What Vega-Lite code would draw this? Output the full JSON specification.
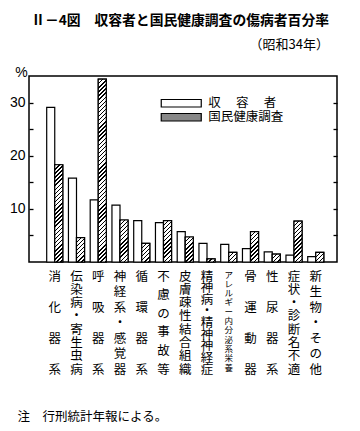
{
  "$schema": "https://vega.github.io/schema/vega-lite/v6.json",
  "autosize": {"type": "none"},
  "padding": {"left": 29, "top": 76, "right": 23, "bottom": 169},
  "width": 308,
  "height": 186,
  "params": [
    {"name": "hs", "value": [
{"offset":0,"color":"#000"},{"offset":0.007,"color":"#000"},{"offset":0.007,"color":"#fff"},{"offset":0.02,"color":"#fff"},
{"offset":0.02,"color":"#000"},{"offset":0.027,"color":"#000"},{"offset":0.027,"color":"#fff"},{"offset":0.04,"color":"#fff"},
{"offset":0.04,"color":"#000"},{"offset":0.047,"color":"#000"},{"offset":0.047,"color":"#fff"},{"offset":0.06,"color":"#fff"},
{"offset":0.06,"color":"#000"},{"offset":0.067,"color":"#000"},{"offset":0.067,"color":"#fff"},{"offset":0.08,"color":"#fff"},
{"offset":0.08,"color":"#000"},{"offset":0.087,"color":"#000"},{"offset":0.087,"color":"#fff"},{"offset":0.1,"color":"#fff"},
{"offset":0.1,"color":"#000"},{"offset":0.107,"color":"#000"},{"offset":0.107,"color":"#fff"},{"offset":0.12,"color":"#fff"},
{"offset":0.12,"color":"#000"},{"offset":0.127,"color":"#000"},{"offset":0.127,"color":"#fff"},{"offset":0.14,"color":"#fff"},
{"offset":0.14,"color":"#000"},{"offset":0.147,"color":"#000"},{"offset":0.147,"color":"#fff"},{"offset":0.16,"color":"#fff"},
{"offset":0.16,"color":"#000"},{"offset":0.167,"color":"#000"},{"offset":0.167,"color":"#fff"},{"offset":0.18,"color":"#fff"},
{"offset":0.18,"color":"#000"},{"offset":0.187,"color":"#000"},{"offset":0.187,"color":"#fff"},{"offset":0.2,"color":"#fff"},
{"offset":0.2,"color":"#000"},{"offset":0.207,"color":"#000"},{"offset":0.207,"color":"#fff"},{"offset":0.22,"color":"#fff"},
{"offset":0.22,"color":"#000"},{"offset":0.227,"color":"#000"},{"offset":0.227,"color":"#fff"},{"offset":0.24,"color":"#fff"},
{"offset":0.24,"color":"#000"},{"offset":0.247,"color":"#000"},{"offset":0.247,"color":"#fff"},{"offset":0.26,"color":"#fff"},
{"offset":0.26,"color":"#000"},{"offset":0.267,"color":"#000"},{"offset":0.267,"color":"#fff"},{"offset":0.28,"color":"#fff"},
{"offset":0.28,"color":"#000"},{"offset":0.287,"color":"#000"},{"offset":0.287,"color":"#fff"},{"offset":0.3,"color":"#fff"},
{"offset":0.3,"color":"#000"},{"offset":0.307,"color":"#000"},{"offset":0.307,"color":"#fff"},{"offset":0.32,"color":"#fff"},
{"offset":0.32,"color":"#000"},{"offset":0.327,"color":"#000"},{"offset":0.327,"color":"#fff"},{"offset":0.34,"color":"#fff"},
{"offset":0.34,"color":"#000"},{"offset":0.347,"color":"#000"},{"offset":0.347,"color":"#fff"},{"offset":0.36,"color":"#fff"},
{"offset":0.36,"color":"#000"},{"offset":0.367,"color":"#000"},{"offset":0.367,"color":"#fff"},{"offset":0.38,"color":"#fff"},
{"offset":0.38,"color":"#000"},{"offset":0.387,"color":"#000"},{"offset":0.387,"color":"#fff"},{"offset":0.4,"color":"#fff"},
{"offset":0.4,"color":"#000"},{"offset":0.407,"color":"#000"},{"offset":0.407,"color":"#fff"},{"offset":0.42,"color":"#fff"},
{"offset":0.42,"color":"#000"},{"offset":0.427,"color":"#000"},{"offset":0.427,"color":"#fff"},{"offset":0.44,"color":"#fff"},
{"offset":0.44,"color":"#000"},{"offset":0.447,"color":"#000"},{"offset":0.447,"color":"#fff"},{"offset":0.46,"color":"#fff"},
{"offset":0.46,"color":"#000"},{"offset":0.467,"color":"#000"},{"offset":0.467,"color":"#fff"},{"offset":0.48,"color":"#fff"},
{"offset":0.48,"color":"#000"},{"offset":0.487,"color":"#000"},{"offset":0.487,"color":"#fff"},{"offset":0.5,"color":"#fff"},
{"offset":0.5,"color":"#000"},{"offset":0.507,"color":"#000"},{"offset":0.507,"color":"#fff"},{"offset":0.52,"color":"#fff"},
{"offset":0.52,"color":"#000"},{"offset":0.527,"color":"#000"},{"offset":0.527,"color":"#fff"},{"offset":0.54,"color":"#fff"},
{"offset":0.54,"color":"#000"},{"offset":0.547,"color":"#000"},{"offset":0.547,"color":"#fff"},{"offset":0.56,"color":"#fff"},
{"offset":0.56,"color":"#000"},{"offset":0.567,"color":"#000"},{"offset":0.567,"color":"#fff"},{"offset":0.58,"color":"#fff"},
{"offset":0.58,"color":"#000"},{"offset":0.587,"color":"#000"},{"offset":0.587,"color":"#fff"},{"offset":0.6,"color":"#fff"},
{"offset":0.6,"color":"#000"},{"offset":0.607,"color":"#000"},{"offset":0.607,"color":"#fff"},{"offset":0.62,"color":"#fff"},
{"offset":0.62,"color":"#000"},{"offset":0.627,"color":"#000"},{"offset":0.627,"color":"#fff"},{"offset":0.64,"color":"#fff"},
{"offset":0.64,"color":"#000"},{"offset":0.647,"color":"#000"},{"offset":0.647,"color":"#fff"},{"offset":0.66,"color":"#fff"},
{"offset":0.66,"color":"#000"},{"offset":0.667,"color":"#000"},{"offset":0.667,"color":"#fff"},{"offset":0.68,"color":"#fff"},
{"offset":0.68,"color":"#000"},{"offset":0.687,"color":"#000"},{"offset":0.687,"color":"#fff"},{"offset":0.7,"color":"#fff"},
{"offset":0.7,"color":"#000"},{"offset":0.707,"color":"#000"},{"offset":0.707,"color":"#fff"},{"offset":0.72,"color":"#fff"},
{"offset":0.72,"color":"#000"},{"offset":0.727,"color":"#000"},{"offset":0.727,"color":"#fff"},{"offset":0.74,"color":"#fff"},
{"offset":0.74,"color":"#000"},{"offset":0.747,"color":"#000"},{"offset":0.747,"color":"#fff"},{"offset":0.76,"color":"#fff"},
{"offset":0.76,"color":"#000"},{"offset":0.767,"color":"#000"},{"offset":0.767,"color":"#fff"},{"offset":0.78,"color":"#fff"},
{"offset":0.78,"color":"#000"},{"offset":0.787,"color":"#000"},{"offset":0.787,"color":"#fff"},{"offset":0.8,"color":"#fff"},
{"offset":0.8,"color":"#000"},{"offset":0.807,"color":"#000"},{"offset":0.807,"color":"#fff"},{"offset":0.82,"color":"#fff"},
{"offset":0.82,"color":"#000"},{"offset":0.827,"color":"#000"},{"offset":0.827,"color":"#fff"},{"offset":0.84,"color":"#fff"},
{"offset":0.84,"color":"#000"},{"offset":0.847,"color":"#000"},{"offset":0.847,"color":"#fff"},{"offset":0.86,"color":"#fff"},
{"offset":0.86,"color":"#000"},{"offset":0.867,"color":"#000"},{"offset":0.867,"color":"#fff"},{"offset":0.88,"color":"#fff"},
{"offset":0.88,"color":"#000"},{"offset":0.887,"color":"#000"},{"offset":0.887,"color":"#fff"},{"offset":0.9,"color":"#fff"},
{"offset":0.9,"color":"#000"},{"offset":0.907,"color":"#000"},{"offset":0.907,"color":"#fff"},{"offset":0.92,"color":"#fff"},
{"offset":0.92,"color":"#000"},{"offset":0.927,"color":"#000"},{"offset":0.927,"color":"#fff"},{"offset":0.94,"color":"#fff"},
{"offset":0.94,"color":"#000"},{"offset":0.947,"color":"#000"},{"offset":0.947,"color":"#fff"},{"offset":0.96,"color":"#fff"},
{"offset":0.96,"color":"#000"},{"offset":0.967,"color":"#000"},{"offset":0.967,"color":"#fff"},{"offset":0.98,"color":"#fff"},
{"offset":0.98,"color":"#000"},{"offset":0.987,"color":"#000"},{"offset":0.987,"color":"#fff"},{"offset":1,"color":"#fff"}
    ]}
  ],
  "title": {
    "text": "Ⅱ－4図　収容者と国民健康調査の傷病者百分率",
    "subtitle": "（昭和34年）",
    "anchor": "end",
    "frame": "group",
    "dx": -8,
    "offset": 13,
    "font": "Noto Sans CJK JP",
    "fontSize": 13.8,
    "fontWeight": "bold",
    "color": "black",
    "subtitleFont": "Noto Sans CJK JP",
    "subtitleFontSize": 13,
    "subtitleColor": "black",
    "subtitlePadding": 11
  },
  "data": {"values": [
    {"cat":"消化器系","series":"収容者","pct":29.1},{"cat":"消化器系","series":"国民健康調査","pct":18.3},
    {"cat":"伝染病・寄生虫病","series":"収容者","pct":15.8},{"cat":"伝染病・寄生虫病","series":"国民健康調査","pct":4.6},
    {"cat":"呼吸器系","series":"収容者","pct":11.7},{"cat":"呼吸器系","series":"国民健康調査","pct":34.4},
    {"cat":"神経系・感覚器","series":"収容者","pct":10.7},{"cat":"神経系・感覚器","series":"国民健康調査","pct":7.9},
    {"cat":"循環器系","series":"収容者","pct":7.8},{"cat":"循環器系","series":"国民健康調査","pct":3.5},
    {"cat":"不慮の事故等","series":"収容者","pct":7.4},{"cat":"不慮の事故等","series":"国民健康調査","pct":7.8},
    {"cat":"皮膚疎性結合組織","series":"収容者","pct":5.7},{"cat":"皮膚疎性結合組織","series":"国民健康調査","pct":4.7},
    {"cat":"精神病・精神神経症","series":"収容者","pct":3.5},{"cat":"精神病・精神神経症","series":"国民健康調査","pct":0.6},
    {"cat":"アレルギー内分泌系栄養","series":"収容者","pct":3.3},{"cat":"アレルギー内分泌系栄養","series":"国民健康調査","pct":1.8},
    {"cat":"骨運動器","series":"収容者","pct":2.5},{"cat":"骨運動器","series":"国民健康調査","pct":5.7},
    {"cat":"性尿器系","series":"収容者","pct":1.9},{"cat":"性尿器系","series":"国民健康調査","pct":1.5},
    {"cat":"症状・診断名不適","series":"収容者","pct":1.3},{"cat":"症状・診断名不適","series":"国民健康調査","pct":7.7},
    {"cat":"新生物・その他","series":"収容者","pct":1.0},{"cat":"新生物・その他","series":"国民健康調査","pct":1.8}
  ]},
  "layer": [
    {
      "mark": {"type": "bar", "stroke": "black", "strokeWidth": 1.2},
      "encoding": {
        "x": {
          "field": "cat", "type": "nominal", "sort": null,
          "scale": {"paddingInner": 0.26, "paddingOuter": 0.71, "align": 0.573},
          "axis": {
            "title": "注　行刑統計年報による。",
            "titleAnchor": "start", "titleAlign": "left", "titleBaseline": "middle",
            "titleX": -12, "titleY": 154,
            "titleFont": "Noto Sans CJK JP", "titleFontSize": 12.5, "titleFontWeight": "normal", "titleColor": "black",
            "labelAngle": 0, "labelBaseline": "top", "labelAlign": "center", "labelPadding": 8,
            "ticks": false, "domain": false, "labelOverlap": false, "labelLimit": 0,
            "labelExpr": "split(datum.label, '')",
            "labelLineHeight": {"expr": "93 / (length(datum.value) - 1)"},
            "labelFont": "Noto Sans CJK JP",
            "labelFontSize": {"condition": {"test": "length(datum.value) > 10", "value": 8.5}, "value": 12.5},
            "labelColor": "black"
          }
        },
        "xOffset": {"field": "series", "type": "nominal", "sort": ["収容者", "国民健康調査"], "scale": {"paddingInner": 0, "paddingOuter": 0}},
        "y": {
          "field": "pct", "type": "quantitative", "stack": null,
          "scale": {"domain": [0, 35], "nice": false, "zero": true},
          "axis": {
            "orient": "left", "values": [5, 10, 15, 20, 25, 30],
            "labelExpr": "datum.value % 10 === 0 ? datum.label : ''",
            "tickSize": -4, "tickColor": "black", "tickWidth": 1.3,
            "domain": false, "grid": false, "labelPadding": 8,
            "labelFont": "Liberation Sans", "labelFontSize": 14, "labelColor": "black",
            "title": "%", "titleAngle": 0, "titleX": -8, "titleY": -4,
            "titleAlign": "center", "titleBaseline": "middle",
            "titleFont": "Liberation Sans", "titleFontSize": 14, "titleFontWeight": "normal", "titleColor": "black"
          }
        },
        "fill": {
          "field": "series", "type": "nominal", "sort": ["収容者", "国民健康調査"],
          "scale": {"range": ["#ffffff", "#888888"]},
          "legend": {
            "orient": "none", "legendX": 146, "legendY": 21, "title": null,
            "symbolType": "M-5,-0.9375H5V0.9375H-5Z", "symbolSize": 64,
            "symbolStrokeColor": "black", "symbolStrokeWidth": 1.2,
            "labelOffset": 20.7, "labelFont": "Noto Sans CJK JP", "labelFontSize": 12.5, "labelColor": "black",
            "rowPadding": 1,
            "labelExpr": "datum.label === '収容者' ? '収　 容　 者' : datum.label",
            "encoding": {"symbols": {
              "fill": {"value": {"expr": "datum.value === '国民健康調査' ? {gradient: 'linear', x1: 0, y1: 0, x2: 4.95, y2: 0.93, stops: hs} : '#ffffff'"}},
              "stroke": {"value": "black"},
              "strokeWidth": {"value": 1.2},
              "opacity": {"value": 1}
            }}
          }
        }
      }
    },
    {
      "transform": [{"filter": "datum.series === '国民健康調査'"}],
      "mark": {
        "type": "bar", "stroke": "black", "strokeWidth": 1.2,
        "fill": {"expr": "{gradient: 'linear', x1: 0, y1: 0, x2: 205 * bandwidth('xOffset') / (pow(bandwidth('xOffset'), 2) + pow(scale('y', 0) - scale('y', datum.pct), 2)), y2: 205 * (scale('y', 0) - scale('y', datum.pct)) / (pow(bandwidth('xOffset'), 2) + pow(scale('y', 0) - scale('y', datum.pct), 2)), stops: hs}"}
      },
      "encoding": {
        "x": {"field": "cat", "type": "nominal", "sort": null},
        "xOffset": {"field": "series", "type": "nominal", "sort": ["収容者", "国民健康調査"]},
        "y": {
          "field": "pct", "type": "quantitative", "stack": null,
          "axis": {
            "orient": "right", "values": [5, 10, 15, 20, 25, 30], "labels": false,
            "tickSize": -4, "tickColor": "black", "tickWidth": 1.3,
            "domain": false, "grid": false, "title": null
          }
        }
      }
    }
  ],
  "resolve": {"axis": {"y": "independent"}},
  "config": {
    "view": {"stroke": "black", "strokeWidth": 1.5},
    "font": "Noto Sans CJK JP",
    "background": "white"
  }
}
